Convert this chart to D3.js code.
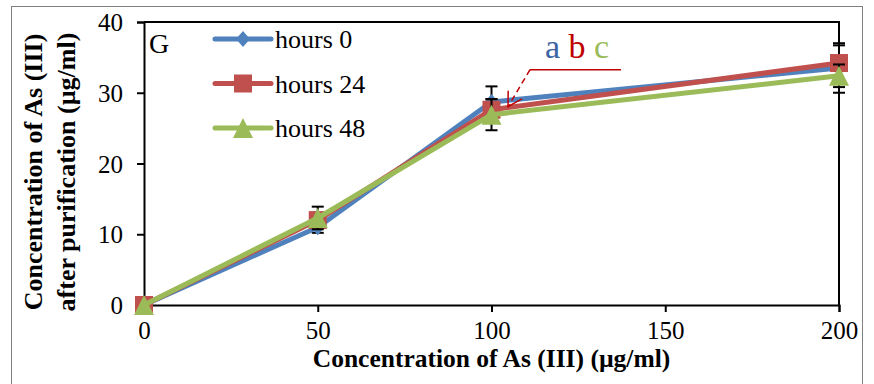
<!DOCTYPE html>
<html>
<head>
<meta charset="utf-8">
<script src="https://cdn.jsdelivr.net/npm/d3@7"></script>
<style>
  body { margin: 0; background: #fff; }
  svg { display: block; }
  svg text { font-family: "Liberation Serif", "Times New Roman", "DejaVu Serif", serif; }
</style>
</head>
<body>
<svg id="chart" width="874" height="384"></svg>
<script>
// concentration of As(III) added (µg/ml)
const concentrations = [0, 50, 100, 200];
const xTicks = [0, 50, 100, 150, 200];
const yTicks = [0, 10, 20, 30, 40];

const seriesNames = ["hours 0", "hours 24", "hours 48"];
const hours0 = [0, 11.0, 28.7, 33.5];
const hours24 = [0, 12.0, 27.6, 34.2];
const hours48 = [0, 12.3, 26.9, 32.4];
const hours0Err = [0, 0.8, 2.2, 3.5];
const hours24Err = [0, 0.8, 1.5, 2.5];
const hours48Err = [0, 1.6, 2.2, 1.6];

const colors = ["#4f81bd", "#c0504d", "#9bbb59"];
const shapes = ["diamond", "square", "triangle"];
const serif = "'Liberation Serif', 'Times New Roman', 'DejaVu Serif', serif";

const svg = d3.select("#chart");

const plot = { left: 144, right: 839, top: 22, bottom: 305 };

const x = d3.scaleLinear().domain([0, 200]).range([plot.left, plot.right]);
const y = d3.scaleLinear().domain([0, 40]).range([plot.bottom, plot.top]);

// outer frame
svg.append("rect")
  .attr("x", 11.5).attr("y", 6.5)
  .attr("width", 851).attr("height", 400)
  .attr("fill", "none")
  .attr("stroke", "#808080")
  .attr("stroke-width", 1);

// plot border (top + right)
svg.append("path")
  .attr("d", `M${plot.left},${plot.top}H${plot.right}V${plot.bottom}`)
  .attr("fill", "none")
  .attr("stroke", "#000")
  .attr("stroke-width", 2);

// axes
const yAxis = svg.append("g")
  .attr("transform", `translate(${plot.left},0)`)
  .call(d3.axisLeft(y).tickValues(yTicks).tickSize(7).tickPadding(14));
const xAxis = svg.append("g")
  .attr("transform", `translate(0,${plot.bottom})`)
  .call(d3.axisBottom(x).tickValues(xTicks).tickSize(7).tickPadding(9));

[xAxis, yAxis].forEach(ax => {
  ax.attr("font-family", serif).attr("font-size", 25);
  ax.select(".domain").attr("stroke", "#000").attr("stroke-width", 2);
  ax.selectAll(".tick line").attr("stroke", "#000").attr("stroke-width", 2);
  ax.selectAll("text").attr("fill", "#000");
});
yAxis.selectAll("text").attr("dy", "0.34em");
xAxis.selectAll("text").attr("dy", "0.71em");

// axis titles
svg.append("text")
  .attr("x", (plot.left + plot.right) / 2)
  .attr("y", 367)
  .attr("text-anchor", "middle")
  .attr("font-family", serif)
  .attr("font-size", 25.5)
  .attr("font-weight", "bold")
  .text("Concentration of As (III) (µg/ml)");

const yTitle = svg.append("text")
  .attr("transform", "translate(0,172) rotate(-90)")
  .attr("text-anchor", "middle")
  .attr("font-family", serif)
  .attr("font-size", 26)
  .attr("font-weight", "bold");
yTitle.append("tspan").attr("x", 0).attr("y", 42).text("Concentration of As (III)");
yTitle.append("tspan").attr("x", 0).attr("y", 75).text("after purification (µg/ml)");

// panel letter
svg.append("text")
  .attr("x", 149).attr("y", 53)
  .attr("font-family", serif)
  .attr("font-size", 28)
  .text("G");

function marker(sel, shape, color) {
  if (shape === "diamond") {
    sel.append("path").attr("d", "M0,-8L7,0L0,8L-7,0Z").attr("fill", color);
  } else if (shape === "square") {
    sel.append("rect").attr("x", -9).attr("y", -9).attr("width", 18).attr("height", 18).attr("fill", color);
  } else {
    sel.append("path").attr("d", "M0,-10L10,10L-10,10Z").attr("fill", color);
  }
}

const series = [
  { name: seriesNames[0], values: hours0, err: hours0Err },
  { name: seriesNames[1], values: hours24, err: hours24Err },
  { name: seriesNames[2], values: hours48, err: hours48Err }
];

const line = d3.line().x(d => x(d.c)).y(d => y(d.v));

series.forEach((s, i) => {
  const pts = concentrations.map((c, j) => ({ c, v: s.values[j], e: s.err[j] }));
  const g = svg.append("g");

  // error bars
  const eb = g.selectAll(".err").data(pts.filter(d => d.e > 0)).enter().append("g");
  eb.append("line")
    .attr("x1", d => x(d.c)).attr("x2", d => x(d.c))
    .attr("y1", d => y(d.v + d.e)).attr("y2", d => y(d.v - d.e))
    .attr("stroke", "#000").attr("stroke-width", 2);
  [1, -1].forEach(sign => {
    eb.append("line")
      .attr("x1", d => x(d.c) - 6).attr("x2", d => x(d.c) + 6)
      .attr("y1", d => y(d.v + sign * d.e)).attr("y2", d => y(d.v + sign * d.e))
      .attr("stroke", "#000").attr("stroke-width", 2);
  });

  g.append("path")
    .datum(pts)
    .attr("d", line)
    .attr("fill", "none")
    .attr("stroke", colors[i])
    .attr("stroke-width", 5)
    .attr("stroke-linejoin", "round");

  g.selectAll(".mk").data(pts).enter().append("g")
    .attr("transform", d => `translate(${x(d.c)},${y(d.v)})`)
    .each(function () { marker(d3.select(this), shapes[i], colors[i]); });
});

// legend
const legend = svg.append("g").attr("transform", "translate(215,39)");
series.forEach((s, i) => {
  const row = legend.append("g").attr("transform", `translate(0,${i * 44.5})`);
  row.append("line")
    .attr("x1", 0).attr("x2", 56)
    .attr("stroke", colors[i]).attr("stroke-width", 5)
    .attr("stroke-linecap", "round");
  const m = row.append("g").attr("transform", "translate(28,0)");
  marker(m, shapes[i], colors[i]);
  row.append("text")
    .attr("x", 60).attr("y", 9)
    .attr("font-family", serif)
    .attr("font-size", 26)
    .text(s.name);
});

// "a b c" annotation pointing at the 100 µg/ml group
const tipX = x(100) + 16.5;
const tipY = y(hours24[2]) - 3;
const elbowX = tipX + 22, elbowY = tipY - 37;
const annColor = "#c00000";

svg.append("line")
  .attr("x1", elbowX).attr("y1", elbowY)
  .attr("x2", elbowX + 91).attr("y2", elbowY)
  .attr("stroke", annColor).attr("stroke-width", 1.5);
svg.append("line")
  .attr("x1", elbowX).attr("y1", elbowY)
  .attr("x2", tipX).attr("y2", tipY)
  .attr("stroke", annColor).attr("stroke-width", 1.5)
  .attr("stroke-dasharray", "6,4");
const ang = Math.atan2(elbowY - tipY, elbowX - tipX);
const arm = 16, spread = Math.PI / 6;
svg.append("path")
  .attr("d", `M${tipX + arm * Math.cos(ang - spread)},${tipY + arm * Math.sin(ang - spread)}L${tipX},${tipY}L${tipX + arm * Math.cos(ang + spread)},${tipY + arm * Math.sin(ang + spread)}`)
  .attr("fill", "none")
  .attr("stroke", annColor).attr("stroke-width", 1.5);

const ann = svg.append("text")
  .attr("x", elbowX + 47).attr("y", elbowY - 12)
  .attr("text-anchor", "middle")
  .attr("font-family", serif)
  .attr("font-size", 34);
ann.append("tspan").attr("fill", "#3b64a4").text("a");
ann.append("tspan").attr("fill", "#c00000").text(" b");
ann.append("tspan").attr("fill", "#9bbb59").text(" c");
</script>
</body>
</html>
